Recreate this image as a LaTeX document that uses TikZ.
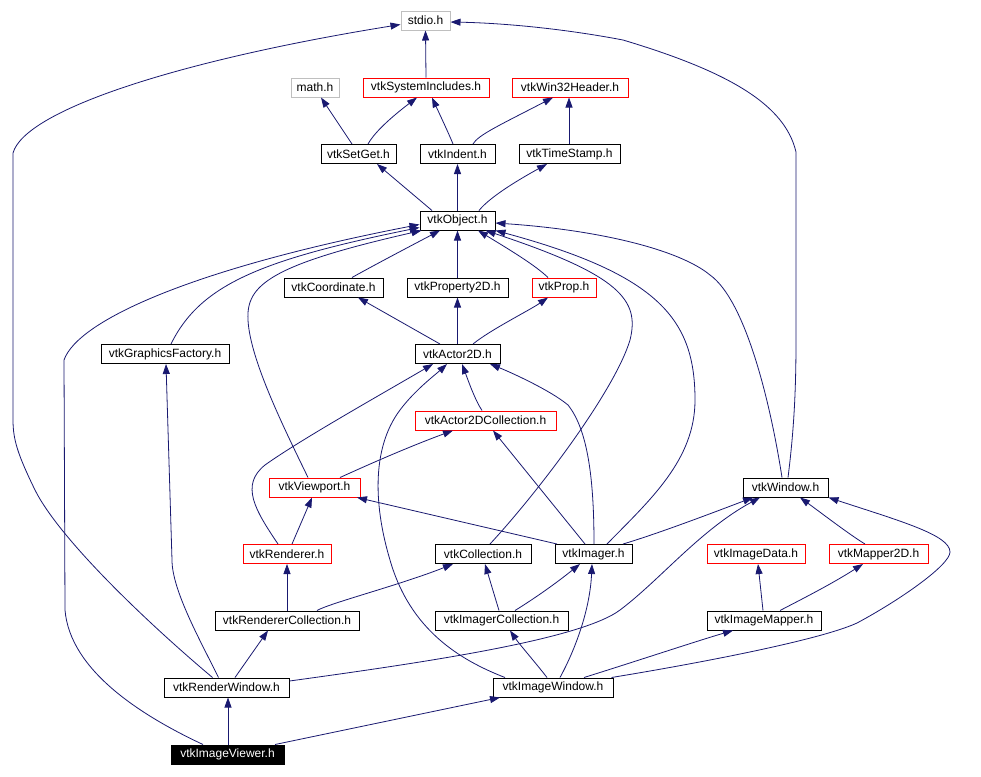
\documentclass[tikz,border=0pt]{standalone}
\usepackage{fontspec}
\setmainfont{Liberation Sans}
\usetikzlibrary{arrows.meta,calc}
\definecolor{edgec}{HTML}{191970}
\definecolor{grayb}{HTML}{BFBFBF}
\definecolor{redb}{HTML}{FF0000}
\begin{document}
\begin{tikzpicture}[x=0.75pt,y=-0.75pt,
  box/.style={draw=black,rectangle,minimum height=14.25pt,inner sep=0pt,line width=0.75pt,
    font=\fontsize{9}{10}\selectfont,text=black,fill=white},
  graybox/.style={box,draw=grayb},
  redbox/.style={box,draw=redb},
  mainbox/.style={box,fill=black,text=white},
  dep/.style={draw=edgec,line width=0.6pt,-{Triangle[length=7.5pt,width=5.25pt]}}]
\fill[white] (0,0) rectangle (981,776);
\useasboundingbox (0,0) rectangle (981,776);

% nodes
\node[graybox,minimum width=36.75pt] (stdio) at (425.5,20.5) {stdio.h};
\node[graybox,minimum width=36pt] (math) at (315,87.5) {math.h};
\node[redbox,minimum width=94.5pt] (sysinc) at (426,87.5) {vtkSystemIncludes.h};
\node[redbox,minimum width=87pt] (win32) at (570,87.5) {vtkWin32Header.h};
\node[box,minimum width=56.25pt] (setget) at (358.5,154) {vtkSetGet.h};
\node[box,minimum width=56.25pt] (indent) at (457.5,154) {vtkIndent.h};
\node[box,minimum width=75.75pt] (timestamp) at (569.5,154) {vtkTimeStamp.h};
\node[box,minimum width=56.25pt] (object) at (457.5,220.5) {vtkObject.h};
\node[box,minimum width=74.25pt] (coordinate) at (333.5,287.5) {vtkCoordinate.h};
\node[box,minimum width=75.75pt] (property2d) at (457.5,287.5) {vtkProperty2D.h};
\node[redbox,minimum width=48pt] (prop) at (564,287.5) {vtkProp.h};
\node[box,minimum width=96pt] (gf) at (165,354) {vtkGraphicsFactory.h};
\node[box,minimum width=63.75pt] (actor2d) at (457.5,354) {vtkActor2D.h};
\node[redbox,minimum width=105.75pt] (actor2dcoll) at (485.5,420.5) {vtkActor2DCollection.h};
\node[redbox,minimum width=68.25pt] (viewport) at (314.5,487.5) {vtkViewport.h};
\node[box,minimum width=63.75pt] (window) at (785.5,487.5) {vtkWindow.h};
\node[redbox,minimum width=66pt] (renderer) at (287,554) {vtkRenderer.h};
\node[box,minimum width=72pt] (collection) at (483,554) {vtkCollection.h};
\node[box,minimum width=57.75pt] (imager) at (593.5,554) {vtkImager.h};
\node[redbox,minimum width=73.5pt] (imagedata) at (756,554) {vtkImageData.h};
\node[redbox,minimum width=74.25pt] (mapper2d) at (878.5,554) {vtkMapper2D.h};
\node[box,minimum width=108pt] (renderercoll) at (287,620.5) {vtkRendererCollection.h};
\node[box,minimum width=99.75pt] (imagercoll) at (501.5,620.5) {vtkImagerCollection.h};
\node[box,minimum width=85.5pt] (imagemapper) at (764,620.5) {vtkImageMapper.h};
\node[box,minimum width=93.75pt] (renderwindow) at (226.5,687.5) {vtkRenderWindow.h};
\node[box,minimum width=90pt] (imagewindow) at (553,687.5) {vtkImageWindow.h};
\node[mainbox,minimum width=84.75pt] (imageviewer) at (227.5,754.5) {vtkImageViewer.h};

% edges
\path[dep] (sysinc.north) -- (stdio.south);
\path[dep] ($(setget.north)+(-6.5,0)$) -- ($(math.south)+(6,0)$);
\path[dep] ($(setget.north)+(9.5,0)$) .. controls (373,135) and (385,122) .. ($(sysinc.south)+(-9,0)$);
\path[dep] ($(indent.north)+(-4.5,0)$) .. controls (449,134) and (440,115) .. ($(sysinc.south)+(6,0)$);
\path[dep] ($(indent.north)+(15.5,0)$) .. controls (478,135) and (500,125) .. ($(win32.south)+(-17,0)$);
\path[dep] ($(timestamp.north)+(-0.5,0)$) -- ($(win32.south)+(-1,0)$);
\path[dep] ($(object.north)+(-25.5,0)$) -- ($(setget.south)+(18.5,0)$);
\path[dep] (object.north) -- (indent.south);
\path[dep] ($(object.north)+(21.5,0)$) .. controls (485,203) and (500,190) .. ($(timestamp.south)+(-22.5,0)$);
\path[dep] ($(coordinate.north)+(18.5,0)$) .. controls (360,273) and (380,262) .. ($(object.south)+(-17.5,0)$);
\path[dep] (property2d.north) -- (object.south);
\path[dep] ($(prop.north)+(-16,0)$) .. controls (535,265) and (510,250) .. ($(object.south)+(20.5,0)$);
\path[dep] ($(gf.north)+(6,0)$) .. controls (200,285) and (260,260) .. ($(object.west)+(0,7)$);
\path[dep] ($(viewport.north)+(-6.5,0)$) .. controls (285,430) and (250,360) .. (248,320) .. controls (246,285) and (270,265) .. ($(object.south west)+(2,0)$);
\path[dep] ($(viewport.north)+(25.5,0)$) .. controls (350,473) and (400,450) .. ($(actor2dcoll.south)+(-32.5,0)$);
\path[dep] ($(renderer.north)+(5,0)$) -- ($(viewport.south)+(-2.5,0)$);
\path[dep] ($(renderer.north)+(-9,0)$) .. controls (255,510) and (240,485) .. (265,465) .. controls (300,440) and (380,395) .. ($(actor2d.south)+(-24.5,0)$);
\path[dep] ($(collection.north)+(7,0)$) .. controls (540,490) and (615,390) .. (630,340) .. controls (640,300) and (620,275) .. ($(object.south)+(28,0)$);
\path[dep] ($(imager.north)+(-36.5,0)$) -- ($(viewport.south)+(42.5,0)$);
\path[dep] ($(imager.north)+(-8.5,0)$) -- ($(actor2dcoll.south)+(7.5,0)$);
\path[dep] ($(imager.north)+(0.5,0)$) .. controls (594,480) and (588,430) .. (568,405) .. controls (550,390) and (510,372) .. ($(actor2d.south)+(32.5,0)$);
\path[dep] ($(imager.north)+(13.5,0)$) .. controls (650,500) and (695,460) .. (695,400) .. controls (695,320) and (660,275) .. (object.south east);
\path[dep] ($(imager.north)+(29.5,0)$) .. controls (660,533) and (720,510) .. ($(window.south)+(-32.5,0)$);
\path[dep] ($(window.north)+(-3.5,0)$) .. controls (770,400) and (745,300) .. (710,275) .. controls (680,250) and (600,230) .. ($(object.east)+(0,2.5)$);
\path[dep] ($(window.north)+(2.5,0)$) .. controls (794,430) and (796,390) .. (796,340) -- (796,152) .. controls (785,105) and (730,72) .. (623,40) .. controls (560,28) and (500,23) .. ($(stdio.east)+(0,1.5)$);
\path[dep] ($(mapper2d.north)+(-13.5,0)$) .. controls (850,535) and (820,512) .. ($(window.south)+(14.5,0)$);
\path[dep] ($(imagewindow.north east)+(-2,0)$) .. controls (700,663) and (820,640) .. (857,623) .. controls (900,600) and (950,565) .. (950,552) .. controls (950,535) and (900,521) .. (window.south east);
\path[dep] ($(imagewindow.north)+(31,0)$) .. controls (640,660) and (700,640) .. ($(imagemapper.south)+(-31,0)$);
\path[dep] ($(imagemapper.north)+(-1,0)$) -- ($(imagedata.south)+(2,0)$);
\path[dep] ($(imagemapper.north)+(16,0)$) .. controls (800,600) and (830,585) .. ($(mapper2d.south)+(-15.5,0)$);
\path[dep] ($(imagercoll.north)+(-2.5,0)$) -- ($(collection.south)+(2,0)$);
\path[dep] ($(imagercoll.north)+(13.5,0)$) .. controls (540,595) and (560,580) .. ($(imager.south)+(-13.5,0)$);
\path[dep] ($(imagewindow.north)+(-6,0)$) .. controls (535,662) and (520,645) .. ($(imagercoll.south)+(8.5,0)$);
\path[dep] ($(imagewindow.north)+(7,0)$) .. controls (575,650) and (590,610) .. ($(imager.south)+(-1.5,0)$);
\path[dep] ($(imagewindow.north)+(-48,0)$) .. controls (460,660) and (410,630) .. (390,560) .. controls (375,510) and (370,450) .. (400,410) .. controls (415,390) and (435,375) .. ($(actor2d.south)+(-10.5,0)$);
\path[dep] ($(renderwindow.east)+(0,-6.5)$) .. controls (420,663) and (580,640) .. (620,610) .. controls (660,580) and (700,530) .. ($(window.south)+(-25.5,0)$);
\path[dep] ($(renderwindow.north)+(8.5,0)$) -- ($(renderercoll.south)+(-19,0)$);
\path[dep] ($(renderwindow.north)+(-8,0)$) .. controls (200,640) and (172,590) .. (172,560) -- ($(gf.south)+(1,0)$);
\path[dep] ($(renderwindow.north)+(-14,0)$) .. controls (150,625) and (60,540) .. (35,490) .. controls (18,455) and (13,440) .. (13,420) -- (13,153) .. controls (25,110) and (180,60) .. ($(stdio.west)+(0,4)$);
\path[dep] ($(imageviewer.north)+(0.5,0)$) -- ($(renderwindow.south)+(1.5,0)$);
\path[dep] ($(imageviewer.north)+(47.5,0)$) -- ($(imagewindow.south)+(-53,0)$);
\path[dep] ($(imageviewer.north)+(-24.5,0)$) .. controls (140,715) and (70,670) .. (65,610) -- (64,360) .. controls (78,320) and (195,268) .. ($(object.west)+(0,4)$);
\path[dep] ($(renderercoll.north)+(30,0)$) .. controls (330,603) and (400,585) .. ($(collection.south)+(-30,0)$);
\path[dep] (renderercoll.north) -- (renderer.south);
\path[dep] ($(actor2dcoll.north)+(-3.5,0)$) .. controls (475,400) and (468,380) .. ($(actor2d.south)+(4.5,0)$);
\path[dep] ($(actor2d.north)+(-17.5,0)$) -- ($(coordinate.south)+(24.5,0)$);
\path[dep] (actor2d.north) -- (property2d.south);
\path[dep] ($(actor2d.north)+(15.5,0)$) .. controls (490,330) and (530,310) .. ($(prop.south)+(-16,0)$);
\end{tikzpicture}
\end{document}
